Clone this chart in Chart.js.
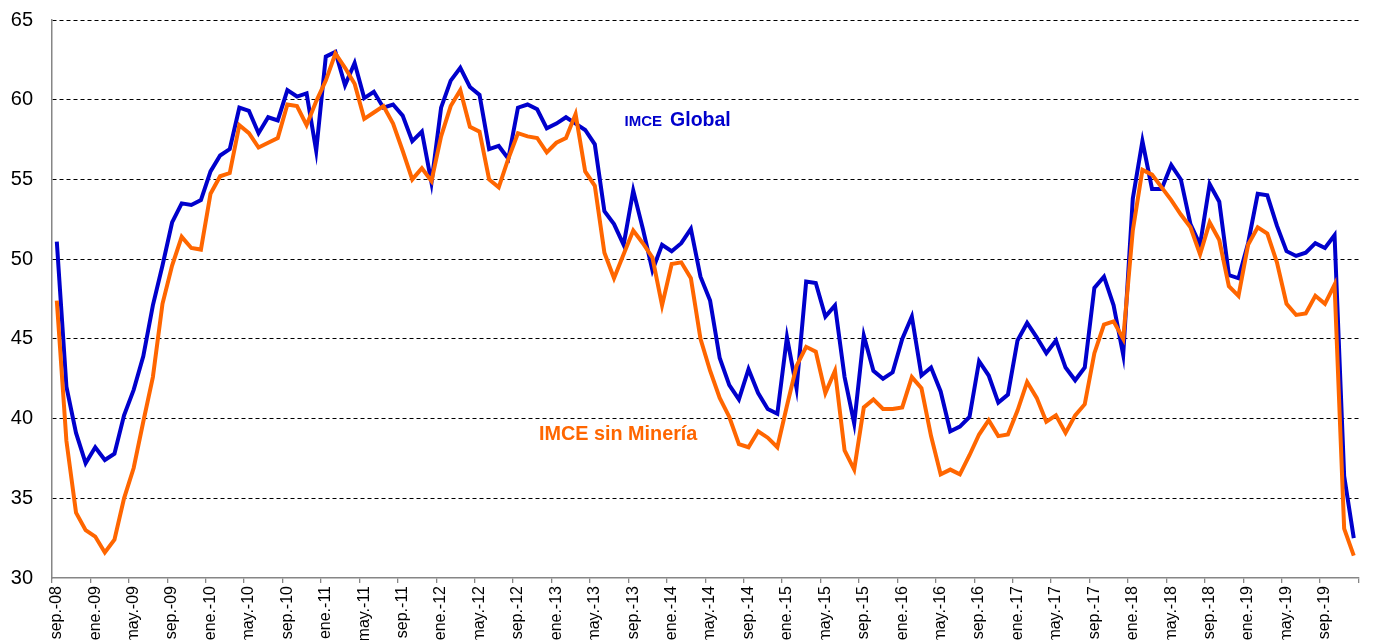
<!DOCTYPE html>
<html>
<head>
<meta charset="utf-8">
<script src="https://cdn.jsdelivr.net/npm/chart.js@4/dist/chart.umd.min.js"></script>
<style>
  html, body { margin: 0; padding: 0; background: #fff; overflow: hidden; }
  #wrap { position: relative; width: 1376px; height: 700px; }
</style>
</head>
<body>
<div id="wrap"><canvas id="c"></canvas></div>
<script>
// Month abbreviations (Spanish) and start of the series: sep-2008, 136 months
const monthNames = ['ene.','feb.','mar.','abr.','may.','jun.','jul.','ago.','sep.','oct.','nov.','dic.'];
const startYear = 2008;
const startMonth = 8; // index in monthNames (sep.)
const nMonths = 136;

const imceGlobal = [
  51.1, 42.0, 39.1, 37.2, 38.2, 37.4, 37.8, 40.2, 41.8, 43.9, 47.1, 49.6,
  52.3, 53.5, 53.4, 53.7, 55.5, 56.5, 56.9, 59.5, 59.3, 57.9, 58.9, 58.7,
  60.6, 60.2, 60.4, 56.8, 62.7, 63.0, 60.9, 62.3, 60.1, 60.5, 59.5, 59.7,
  59.0, 57.4, 58.0, 54.8, 59.5, 61.2, 62.0, 60.8, 60.3, 56.9, 57.1, 56.3,
  59.5, 59.7, 59.4, 58.2, 58.5, 58.9, 58.5, 58.1, 57.2, 53.0, 52.2, 50.9,
  54.3, 51.9, 49.3, 50.9, 50.5, 51.0, 51.9, 48.9, 47.4, 43.8, 42.1, 41.2,
  43.1, 41.6, 40.6, 40.3, 45.1, 41.9, 48.6, 48.5, 46.4, 47.1, 42.6, 39.7,
  45.2, 43.0, 42.5, 42.9, 45.0, 46.4, 42.7, 43.2, 41.7, 39.2, 39.5, 40.1,
  43.6, 42.7, 41.0, 41.5, 44.9, 46.0, 45.1, 44.1, 44.9, 43.2, 42.4, 43.2,
  48.2, 48.9, 47.1, 44.0, 53.8, 57.4, 54.4, 54.4, 55.9, 55.0, 52.2, 50.9,
  54.7, 53.6, 49.0, 48.8, 51.0, 54.1, 54.0, 52.1, 50.5, 50.2, 50.4, 51.0,
  50.7, 51.5, 36.4, 32.5
];

const imceSinMineria = [
  47.4, 38.6, 34.1, 33.0, 32.6, 31.6, 32.4, 35.0, 36.9, 39.8, 42.6, 47.2,
  49.6, 51.4, 50.7, 50.6, 54.1, 55.2, 55.4, 58.4, 57.9, 57.0, 57.3, 57.6,
  59.7, 59.6, 58.4, 59.9, 61.2, 62.9, 62.0, 61.0, 58.8, 59.2, 59.6, 58.5,
  56.8, 55.0, 55.7, 54.9, 57.7, 59.6, 60.6, 58.3, 58.0, 55.0, 54.5, 56.3,
  57.9, 57.7, 57.6, 56.7, 57.3, 57.6, 59.1, 55.5, 54.6, 50.4, 48.8, 50.3,
  51.8, 51.0, 50.1, 47.1, 49.7, 49.8, 48.8, 45.0, 43.0, 41.3, 40.1, 38.4,
  38.2, 39.2, 38.8, 38.2, 40.8, 43.3, 44.5, 44.2, 41.6, 43.0, 38.0, 36.8,
  40.7, 41.2, 40.6, 40.6, 40.7, 42.6, 41.9, 38.9, 36.5, 36.8, 36.5, 37.7,
  39.0, 39.9, 38.9, 39.0, 40.5, 42.3, 41.3, 39.8, 40.2, 39.1, 40.2, 40.9,
  44.1, 45.9, 46.1, 45.0, 51.8, 55.6, 55.3, 54.5, 53.7, 52.8, 52.0, 50.3,
  52.3, 51.2, 48.3, 47.7, 50.9, 52.0, 51.6, 49.8, 47.2, 46.5, 46.6, 47.7,
  47.2, 48.4, 33.1, 31.4
];

const yMin = 30, yMax = 65, yStep = 5;
const labelEvery = 4;

// Category labels "sep.-08", "oct.-08", ...
const categories = [];
for (let i = 0; i < nMonths; i++) {
  const m = (startMonth + i) % 12;
  const y = startYear + Math.floor((startMonth + i) / 12);
  categories.push(monthNames[m] + '-' + String(y % 100).padStart(2, '0'));
}

const FONT = "'Liberation Sans', Arial, Helvetica, sans-serif";
const BLUE = '#0000CC';
const ORANGE = '#FF6600';
const AXIS = '#868686';

// Text labels placed in data coordinates (category index, value)
const seriesLabels = [
  { parts: [ { text: 'IMCE', size: 15 }, { text: 'Global', size: 19.5, gap: 8 } ], at: [59.1, 58.35], color: BLUE },
  { parts: [ { text: 'IMCE sin Minería', size: 19.8 } ], at: [50.2, 38.67], color: ORANGE }
];

const labelPlugin = {
  id: 'seriesLabels',
  afterDatasetsDraw(chart) {
    const ctx = chart.ctx;
    const xs = chart.scales.x, ys = chart.scales.y;
    ctx.save();
    ctx.textBaseline = 'alphabetic';
    ctx.textAlign = 'left';
    seriesLabels.forEach(l => {
      let x = xs.getPixelForValue(l.at[0]);
      const y = ys.getPixelForValue(l.at[1]);
      ctx.fillStyle = l.color;
      l.parts.forEach(p => {
        x += (p.gap || 0);
        ctx.font = 'bold ' + p.size + 'px ' + FONT;
        ctx.fillText(p.text, x, y);
        x += ctx.measureText(p.text).width;
      });
    });
    ctx.restore();
  }
};

new Chart(document.getElementById('c'), {
  type: 'line',
  data: {
    labels: categories,
    datasets: [
      {
        label: 'IMCE Global',
        data: imceGlobal,
        borderColor: BLUE,
        backgroundColor: BLUE,
        borderWidth: 4,
        pointRadius: 0,
        tension: 0,
        fill: false,
        order: 1,
        borderJoinStyle: 'miter'
      },
      {
        label: 'IMCE sin Minería',
        data: imceSinMineria,
        borderColor: ORANGE,
        backgroundColor: ORANGE,
        borderWidth: 4,
        pointRadius: 0,
        tension: 0,
        fill: false,
        order: 0,
        borderJoinStyle: 'miter'
      }
    ]
  },
  options: {
    responsive: true,
    maintainAspectRatio: false,
    animation: false,
    events: [],
    layout: { padding: { top: 20, right: 8, left: 0, bottom: 0 } },
    plugins: { legend: { display: false }, tooltip: { enabled: false }, title: { display: false } },
    scales: {
      x: {
        type: 'category',
        offset: true,
        grid: {
          offset: true,
          drawOnChartArea: false,
          drawTicks: true,
          tickLength: 5,
          lineWidth: 1.3,
          tickColor: c => (c.index === undefined || c.index % labelEvery === 0) ? AXIS : 'rgba(0,0,0,0)'
        },
        border: { display: true, color: AXIS, width: 1.5 },
        ticks: {
          autoSkip: false,
          minRotation: 90,
          maxRotation: 90,
          padding: 3,
          color: '#000',
          font: { family: FONT, size: 16 },
          callback: (v, i) => (i % labelEvery === 0 ? categories[i] : '')
        },
        afterFit: s => { s.height = 122; }
      },
      y: {
        min: yMin,
        max: yMax,
        ticks: {
          stepSize: yStep,
          padding: 0,
          color: '#000',
          font: { family: FONT, size: 20 }
        },
        grid: {
          drawTicks: true,
          tickLength: 19,
          tickColor: 'rgba(0,0,0,0)',
          lineWidth: 1,
          color: c => (c.tick && c.tick.value === yMin) ? 'rgba(0,0,0,0)' : '#000'
        },
        border: { display: true, color: AXIS, width: 1.5, dash: [4, 3] },
        afterFit: s => { s.width = 52; }
      }
    }
  },
  plugins: [labelPlugin]
});
</script>
</body>
</html>
